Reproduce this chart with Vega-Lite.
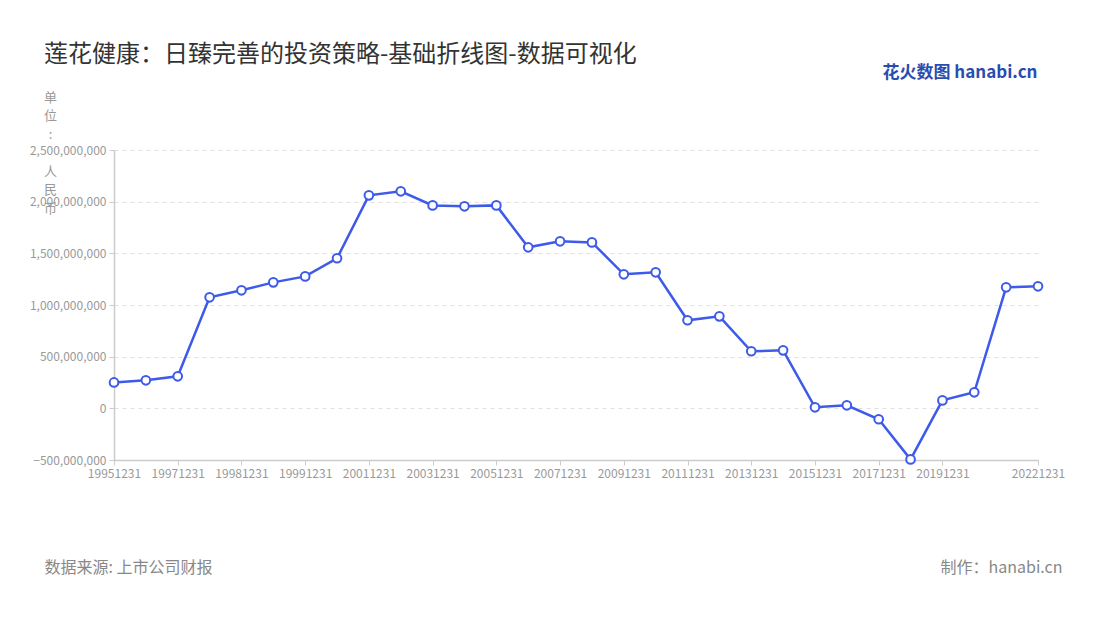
{
  "$schema": "https://vega.github.io/schema/vega-lite/v6.json",
  "width": 924,
  "height": 310,
  "autosize": "none",
  "padding": {"left": 114, "top": 150, "right": 62, "bottom": 160},
  "background": "white",
  "config": {
    "font": "Noto Sans CJK SC",
    "view": {"stroke": null},
    "title": {"font": "Noto Sans CJK SC", "fontSize": 24, "fontWeight": "normal", "color": "#333333", "anchor": "start", "frame": "group", "dx": -70, "offset": -4}
  },
  "title": {"text": "莲花健康：日臻完善的投资策略-基础折线图-数据可视化"},
  "data": {
    "values": [
      {"date": "19951231", "value": 251000000},
      {"date": "19961231", "value": 271000000},
      {"date": "19971231", "value": 310000000},
      {"date": "19980630", "value": 1074000000},
      {"date": "19981231", "value": 1142000000},
      {"date": "19990630", "value": 1219000000},
      {"date": "19991231", "value": 1277000000},
      {"date": "20001231", "value": 1452000000},
      {"date": "20011231", "value": 2061000000},
      {"date": "20021231", "value": 2100000000},
      {"date": "20031231", "value": 1964000000},
      {"date": "20041231", "value": 1955000000},
      {"date": "20051231", "value": 1964000000},
      {"date": "20061231", "value": 1558000000},
      {"date": "20071231", "value": 1616000000},
      {"date": "20081231", "value": 1606000000},
      {"date": "20091231", "value": 1297000000},
      {"date": "20101231", "value": 1316000000},
      {"date": "20111231", "value": 852000000},
      {"date": "20121231", "value": 890000000},
      {"date": "20131231", "value": 552000000},
      {"date": "20141231", "value": 561000000},
      {"date": "20151231", "value": 10000000},
      {"date": "20161231", "value": 29000000},
      {"date": "20171231", "value": -106000000},
      {"date": "20181231", "value": -494000000},
      {"date": "20191231", "value": 77000000},
      {"date": "20201231", "value": 155000000},
      {"date": "20211231", "value": 1171000000},
      {"date": "20221231", "value": 1181000000}
    ]
  },
  "layer": [
    {
      "mark": {"type": "line", "color": "#3d5ae8", "strokeWidth": 2.5},
      "encoding": {
        "x": {
          "field": "date", "type": "ordinal", "sort": null,
          "scale": {"type": "point", "padding": 0},
          "axis": {
            "orient": "bottom",
            "values": ["19951231","19971231","19981231","19991231","20011231","20031231","20051231","20071231","20091231","20111231","20131231","20151231","20171231","20191231","20221231"],
            "labelAngle": 0, "labelFontSize": 12, "labelColor": "#999999", "labelPadding": 3,
            "domainColor": "#cccccc", "domainWidth": 1.5, "tickColor": "#cccccc", "tickSize": 5, "grid": false,
            "title": "数据来源: 上市公司财报", "titleFontSize": 16, "titleFontWeight": "normal", "titleColor": "#888888",
            "titleAlign": "left", "titleBaseline": "middle", "titleX": -70, "titleY": 107
          }
        },
        "y": {
          "field": "value", "type": "quantitative",
          "scale": {"domain": [-500000000, 2500000000], "nice": false},
          "axis": {
            "orient": "left",
            "values": [-500000000, 0, 500000000, 1000000000, 1500000000, 2000000000, 2500000000],
            "labelExpr": "format(datum.value, ',')", "labelFontSize": 12, "labelColor": "#999999", "labelPadding": 3,
            "domain": true, "domainColor": "#cccccc", "domainWidth": 1.5, "tickColor": "#cccccc", "tickSize": 5,
            "grid": true, "gridColor": "#e0e0e0", "gridDash": [4, 4],
            "title": ["单", "位", ":", "\u2800", "人", "民", "币"], "titleAngle": 0, "titleFontSize": 13, "titleFontWeight": "normal",
            "titleColor": "#999999", "titleAlign": "center", "titleBaseline": "top", "titleLineHeight": 18.5,
            "titleX": -64, "titleY": -59
          }
        }
      }
    },
    {
      "mark": {"type": "point", "filled": true, "fill": "white", "stroke": "#3d5ae8", "strokeWidth": 2, "size": 75, "opacity": 1},
      "encoding": {
        "x": {
          "field": "date", "type": "ordinal", "sort": null,
          "axis": {
            "orient": "top", "labels": false, "ticks": false, "domain": false, "grid": false,
            "title": "花火数图 hanabi.cn", "titleFontSize": 17, "titleFontWeight": "bold", "titleColor": "#2a4cb0",
            "titleAlign": "right", "titleBaseline": "middle", "titleX": 923, "titleY": -78
          }
        },
        "y": {
          "field": "value", "type": "quantitative",
          "axis": {
            "orient": "right", "labels": false, "ticks": false, "domain": false, "grid": false,
            "title": "制作：hanabi.cn", "titleAngle": 0, "titleFontSize": 16, "titleFontWeight": "normal", "titleColor": "#888888",
            "titleAlign": "right", "titleBaseline": "middle", "titleX": 24, "titleY": 417
          }
        }
      }
    }
  ],
  "resolve": {"axis": {"x": "independent", "y": "independent"}}
}
